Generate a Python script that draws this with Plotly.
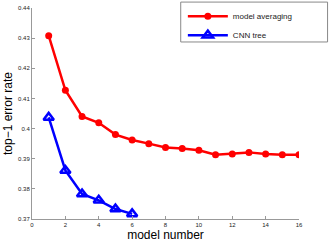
import plotly.graph_objects as go

model_numbers_avg = list(range(1, 17))
model_averaging = [0.4308, 0.4127, 0.4040, 0.4019, 0.3980, 0.3962, 0.3950, 0.3937,
                   0.3934, 0.3928, 0.3913, 0.3916, 0.3921, 0.3916, 0.3913, 0.3913]
model_numbers_tree = [1, 2, 3, 4, 5, 6]
cnn_tree = [0.4037, 0.3861, 0.3783, 0.3762, 0.3733, 0.3717]

x_ticks = [0, 2, 4, 6, 8, 10, 12, 14, 16]
y_ticks = [0.37, 0.38, 0.39, 0.40, 0.41, 0.42, 0.43, 0.44]
y_tick_labels = ["0.37", "0.38", "0.39", "0.4", "0.41", "0.42", "0.43", "0.44"]

FONT = "Liberation Sans, Arial, sans-serif"

fig = go.Figure()
fig.add_trace(go.Scatter(
    x=model_numbers_avg, y=model_averaging, mode="lines+markers",
    name="model averaging",
    line=dict(color="#ff0000", width=2.5),
    marker=dict(symbol="circle", size=7, color="#ff0000"),
))
fig.add_trace(go.Scatter(
    x=model_numbers_tree, y=cnn_tree, mode="lines+markers",
    name="CNN tree",
    line=dict(color="#0000ff", width=2.5),
    marker=dict(symbol="triangle-up-open", size=9, color="#0000ff", line=dict(width=2.5)),
))

axis_common = dict(
    showgrid=False, zeroline=False, showline=True, linecolor="#999999", linewidth=1,
    ticks="inside", ticklen=3, tickcolor="#999999", tickwidth=1, automargin=False,
    tickfont=dict(family=FONT, size=6, color="#222222"),
)
fig.update_xaxes(range=[0, 16], tickvals=x_ticks, **axis_common,
                 title=dict(text="model number", font=dict(family=FONT, size=12, color="#000"), standoff=2))
fig.update_yaxes(range=[0.37, 0.44], tickvals=y_ticks, ticktext=y_tick_labels, **axis_common,
                 title=dict(text="top\u22121 error rate", font=dict(family=FONT, size=12, color="#000"), standoff=2))

# legend box
fig.add_shape(type="rect", xref="paper", yref="paper",
              x0=0.557, x1=1.107, y0=0.839, y1=1.028,
              line=dict(color="#888888", width=1), fillcolor="white", layer="below")

fig.update_layout(
    width=332, height=243,
    margin=dict(l=32, r=33, t=8, b=24, autoexpand=False),
    plot_bgcolor="white", paper_bgcolor="white",
    showlegend=True,
    legend=dict(x=0.565, y=1.03, xanchor="left", yanchor="top",
                bgcolor="rgba(0,0,0,0)", borderwidth=0,
                font=dict(family=FONT, size=8, color="#222222"),
                tracegroupgap=0, itemwidth=40),
)

fig.write_html("out.html", config={"displayModeBar": False},
               post_script="document.body.style.margin='0';document.body.style.padding='0';")
